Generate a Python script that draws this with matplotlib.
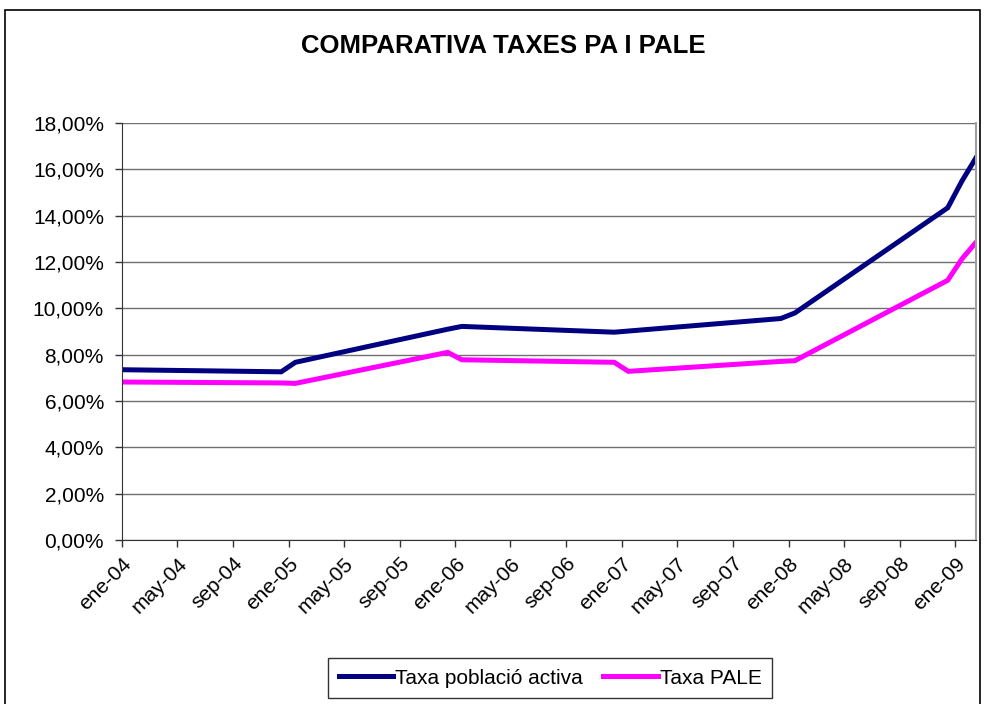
import matplotlib
matplotlib.use("Agg")
import matplotlib.pyplot as plt
import matplotlib.dates as mdates
from matplotlib.patches import Rectangle
from datetime import date

plt.rcParams['font.family'] = ['Liberation Sans', 'DejaVu Sans']

dates = [date(2004, 1, 1), date(2004, 12, 15), date(2005, 1, 15), date(2005, 12, 15),
         date(2006, 1, 15), date(2006, 12, 15), date(2007, 1, 15), date(2007, 12, 15),
         date(2008, 1, 15), date(2008, 12, 15), date(2009, 1, 15), date(2009, 2, 15)]
taxa_activa = [7.35, 7.26, 7.67, 9.10, 9.22, 8.97, 9.02, 9.56, 9.80, 14.34, 15.49, 16.50]
taxa_pale = [6.82, 6.78, 6.76, 8.10, 7.78, 7.67, 7.28, 7.71, 7.74, 11.21, 12.13, 12.85]

tick_dates = [date(y, m, 1) for y in range(2004, 2010) for m in (1, 5, 9) if (y, m) <= (2009, 1)]
tick_labels = ['ene-04', 'may-04', 'sep-04', 'ene-05', 'may-05', 'sep-05', 'ene-06', 'may-06',
               'sep-06', 'ene-07', 'may-07', 'sep-07', 'ene-08', 'may-08', 'sep-08', 'ene-09']
y_ticks = [0, 2, 4, 6, 8, 10, 12, 14, 16, 18]
y_labels = ['0,00%', '2,00%', '4,00%', '6,00%', '8,00%', '10,00%', '12,00%', '14,00%', '16,00%', '18,00%']

fig = plt.figure(figsize=(9.84, 7.04), dpi=100)
fig.patch.set_facecolor('white')
fig.patches.append(Rectangle((5 / 984, -0.05), 975 / 984, 1.05 - 10 / 704, transform=fig.transFigure,
                             fill=False, edgecolor='black', linewidth=1.2))

ax = fig.add_axes([122 / 984, 1 - 540 / 704, (976 - 122) / 984, (540 - 123) / 704])
ax.plot(dates, taxa_activa, color='#000080', linewidth=3.6, label='Taxa població activa',
        solid_joinstyle='miter')
ax.plot(dates, taxa_pale, color='#FF00FF', linewidth=3.6, label='Taxa PALE',
        solid_joinstyle='miter')

ax.set_xlim(dates[0], dates[-1])
ax.set_ylim(0, 18)
ax.set_yticks(y_ticks)
ax.set_yticklabels(y_labels, fontsize=15)
ax.set_xticks(tick_dates)
ax.set_xticklabels(tick_labels, fontsize=15, rotation=45, ha='right', rotation_mode='anchor')
ax.tick_params(axis='both', direction='out', length=5, width=1, color='#333333')
ax.tick_params(axis='y', pad=8)
ax.tick_params(axis='x', pad=5)
ax.yaxis.grid(True, color='#707070', linewidth=1)
ax.set_axisbelow(True)
ax.spines['top'].set_visible(False)
ax.spines['right'].set_color('#a0a0a0')
ax.spines['right'].set_linewidth(1.5)
ax.spines['left'].set_color('#333333')
ax.spines['bottom'].set_color('#333333')

fig.text(503 / 984, 1 - 46 / 704, 'COMPARATIVA TAXES PA I PALE', ha='center', va='center',
         fontsize=18.5, fontweight='bold')

leg = fig.legend(loc='center', bbox_to_anchor=(550 / 984, 1 - 678 / 704), ncol=2, fontsize=15,
                 frameon=True, fancybox=False, edgecolor='black', handlelength=2.6,
                 handletextpad=0.1, columnspacing=1.0, borderpad=0.5)
leg.get_frame().set_linewidth(1)

fig.savefig('out.png', dpi=100)
